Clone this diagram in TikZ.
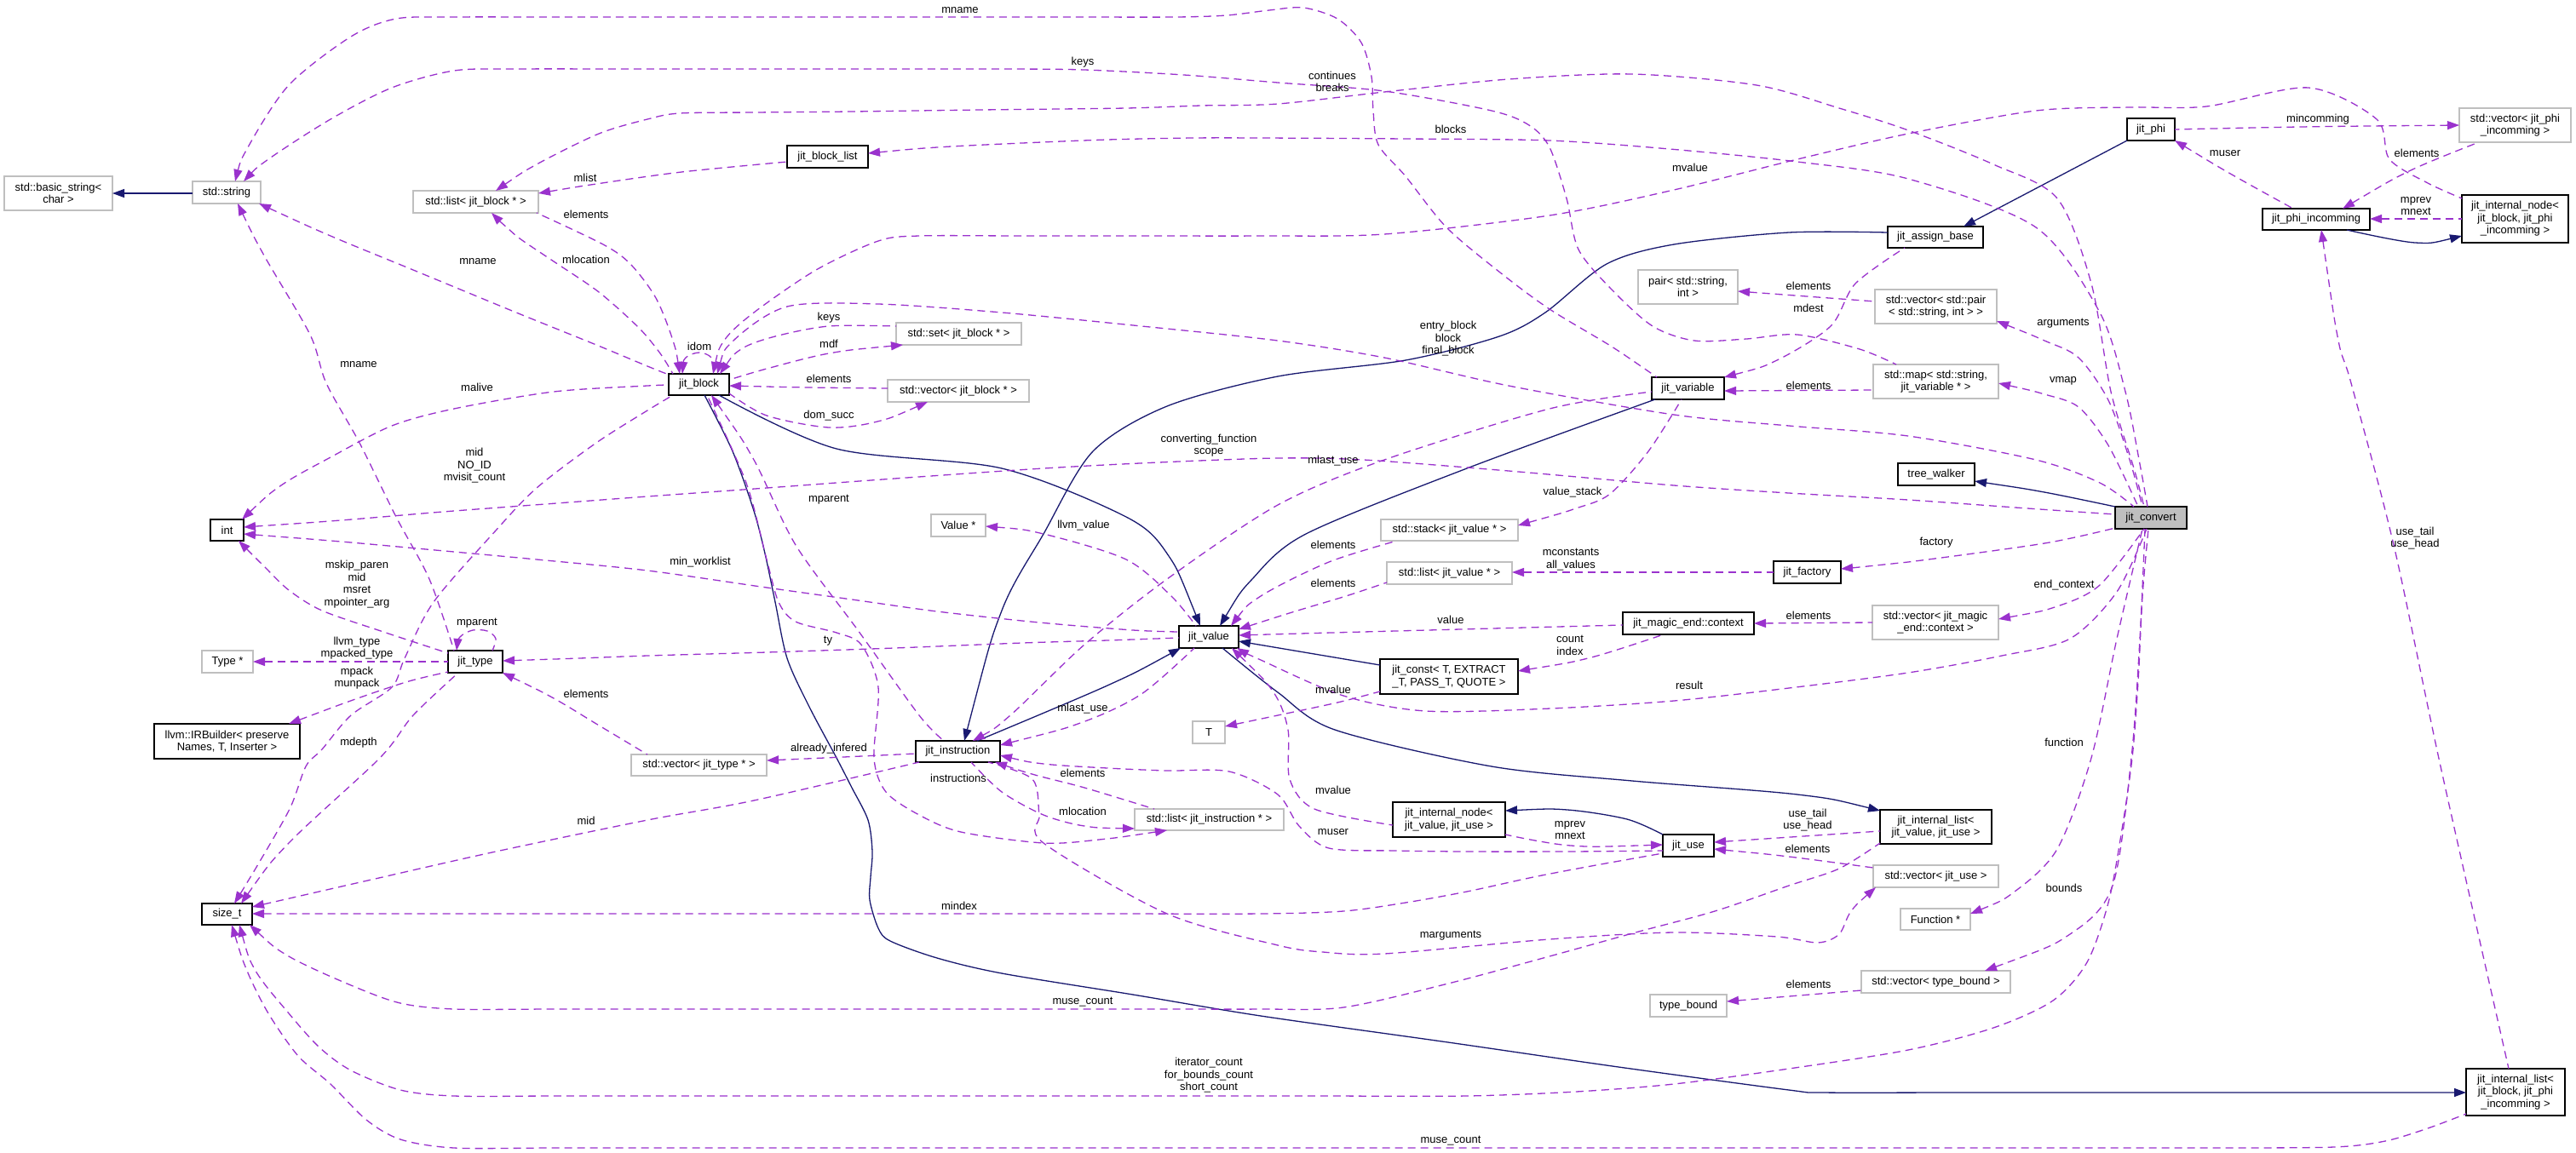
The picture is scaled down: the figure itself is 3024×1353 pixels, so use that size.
\documentclass[tikz,border=0pt]{standalone}
\usepackage{fontspec}
\setmainfont{Liberation Sans}
\usetikzlibrary{arrows.meta,calc}
\definecolor{usecol}{HTML}{9A32CD}
\definecolor{inhcol}{HTML}{191970}
\definecolor{boxgrey}{HTML}{BFBFBF}
\newcommand\lblfont{\fontsize{13pt}{14.5pt}\selectfont}
\tikzset{
 box/.style={line width=1.4pt, inner sep=0pt, align=center, font=\lblfont},
 gbox/.style={box, draw=boxgrey},
 bbox/.style={box, draw=black},
 use/.style={draw=usecol, line width=1.3pt, dash pattern=on 9pt off 6pt, {Triangle[length=14pt,width=10pt]}-},
 inh/.style={draw=inhcol, line width=1.3pt, {Triangle[length=14pt,width=10pt]}-},
 lbl/.style={font=\lblfont, align=center, inner sep=0pt},
 sm/.style={smooth, tension=0.5}
}
\begin{document}
\begin{tikzpicture}[x=1pt,y=-1pt]
\fill[white] (0,0) rectangle (3024,1353);
\useasboundingbox (0,0) rectangle (3024,1353);
% ---------- nodes ----------
\node[gbox, minimum width=127pt, minimum height=40pt] (basic) at (68.5,227) {std::basic\_string<\\char >};
\node[gbox, minimum width=80pt, minimum height=26pt] (string) at (266,226) {std::string};
\node[gbox, minimum width=147pt, minimum height=26pt] (listblk) at (558.5,237) {std::list< jit\_block * >};
\node[bbox, minimum width=95pt, minimum height=26pt] (blklist) at (971.5,184) {jit\_block\_list};
\node[bbox, minimum width=71pt, minimum height=25pt] (jblock) at (820.5,451.5) {jit\_block};
\node[gbox, minimum width=147pt, minimum height=26pt] (setblk) at (1125.5,392) {std::set< jit\_block * >};
\node[gbox, minimum width=166pt, minimum height=26pt] (vecblk) at (1125,459) {std::vector< jit\_block * >};
\node[bbox, minimum width=56pt, minimum height=26pt] (jphi) at (2525,152) {jit\_phi};
\node[gbox, minimum width=131pt, minimum height=40pt] (vecphi) at (2952.5,147) {std::vector< jit\_phi\\\_incomming >};
\node[bbox, minimum width=126pt, minimum height=25pt] (phiinc) at (2719,257.5) {jit\_phi\_incomming};
\node[bbox, minimum width=125pt, minimum height=56pt] (nodebp) at (2952.5,257) {jit\_internal\_node<\\jit\_block, jit\_phi\\\_incomming >};
\node[bbox, minimum width=112pt, minimum height=25pt] (assign) at (2272,278.5) {jit\_assign\_base};
\node[gbox, minimum width=117pt, minimum height=40pt] (pair) at (1981.5,337) {pair< std::string,\\int >};
\node[gbox, minimum width=143pt, minimum height=40pt] (vecpair) at (2272.5,360) {std::vector< std::pair\\< std::string, int > >};
\node[bbox, minimum width=85pt, minimum height=26pt] (jvar) at (1981.5,456) {jit\_variable};
\node[gbox, minimum width=147pt, minimum height=40pt] (mapvar) at (2272.5,448) {std::map< std::string,\\jit\_variable * >};
\node[bbox, minimum width=90pt, minimum height=26pt] (tree) at (2273,557) {tree\_walker};
\node[bbox, fill=boxgrey, minimum width=84pt, minimum height=26pt] (convert) at (2525,608) {jit\_convert};
\node[gbox, minimum width=64pt, minimum height=26pt] (valueptr) at (1125,617) {Value *};
\node[bbox, minimum width=39pt, minimum height=25pt] (int) at (266.5,622.5) {int};
\node[gbox, minimum width=161pt, minimum height=25pt] (stackv) at (1701.5,622.5) {std::stack< jit\_value * >};
\node[gbox, minimum width=147pt, minimum height=26pt] (listv) at (1701.5,673) {std::list< jit\_value * >};
\node[bbox, minimum width=79pt, minimum height=26pt] (factory) at (2121.5,672) {jit\_factory};
\node[bbox, minimum width=70pt, minimum height=26pt] (jvalue) at (1419,748) {jit\_value};
\node[bbox, minimum width=154pt, minimum height=26pt] (magic) at (1982,732) {jit\_magic\_end::context};
\node[gbox, minimum width=148pt, minimum height=40pt] (vecmagic) at (2272,731) {std::vector< jit\_magic\\\_end::context >};
\node[bbox, minimum width=162pt, minimum height=41pt] (jconst) at (1701,794.5) {jit\_const< T, EXTRACT\\\_T, PASS\_T, QUOTE >};
\node[gbox, minimum width=60pt, minimum height=26pt] (typeptr) at (267,777) {Type *};
\node[bbox, minimum width=64pt, minimum height=26pt] (jtype) at (558,777) {jit\_type};
\node[bbox, minimum width=171pt, minimum height=41pt] (irb) at (266.5,870.5) {llvm::IRBuilder< preserve\\Names, T, Inserter >};
\node[gbox, minimum width=38pt, minimum height=26pt] (T) at (1419,860) {T};
\node[gbox, minimum width=159pt, minimum height=25pt] (vectype) at (820.5,898.5) {std::vector< jit\_type * >};
\node[bbox, minimum width=99pt, minimum height=25pt] (jinstr) at (1124.5,882.5) {jit\_instruction};
\node[gbox, minimum width=175pt, minimum height=25pt] (listinstr) at (1419.5,962.5) {std::list< jit\_instruction * >};
\node[bbox, minimum width=132pt, minimum height=41pt] (nodevu) at (1701,962.5) {jit\_internal\_node<\\jit\_value, jit\_use >};
\node[bbox, minimum width=60pt, minimum height=26pt] (juse) at (1982,993) {jit\_use};
\node[bbox, minimum width=131pt, minimum height=40pt] (listvu) at (2272.5,971) {jit\_internal\_list<\\jit\_value, jit\_use >};
\node[gbox, minimum width=147pt, minimum height=26pt] (vecuse) at (2272.5,1029) {std::vector< jit\_use >};
\node[gbox, minimum width=82pt, minimum height=25pt] (func) at (2272,1079.5) {Function *};
\node[gbox, minimum width=90pt, minimum height=26pt] (tbound) at (1982,1181) {type\_bound};
\node[gbox, minimum width=175pt, minimum height=26pt] (vecbound) at (2272.5,1153) {std::vector< type\_bound >};
\node[bbox, minimum width=59pt, minimum height=25pt] (sizet) at (266.5,1073.5) {size\_t};
\node[bbox, minimum width=116pt, minimum height=55pt] (listbp) at (2953,1282.5) {jit\_internal\_list<\\jit\_block, jit\_phi\\\_incomming >};
% ---------- inheritance ----------
\draw[inh] ($(basic)+(63.5,0)$) -- ($(string)+(-40,1)$);
\draw[inh] ($(assign)+(33,-12.5)$) -- ($(jphi)+(-28,13)$);
\draw[inh] plot[sm] coordinates {($(jinstr)+(7.5,-12.5)$) (1176,717) (1225,627) (1283,530) (1370,477) (1500,442) (1650,423) (1760,395) (1814,367) (1886,310) (1965,287) (2100,273) ($(assign)+(-56,-5.5)$)};
\draw[inh] plot[sm] coordinates {($(jvalue)+(13,-13)$) (1470,680) (1533,627) (1722,550) ($(jvar)+(-38.5,13)$)};
\draw[inh] plot[sm] coordinates {($(jvalue)+(-10,-13)$) (1370,650) (1322,607) (1176,550) (982,527) ($(jblock)+(23.5,12.5)$)};
\draw[inh] plot[sm] coordinates {($(jvalue)+(-33,13)$) (1300,805) ($(jinstr)+(22.5,-12.5)$)};
\draw[inh] ($(jvalue)+(35,5)$) -- ($(jconst)+(-81,-13.5)$);
\draw[inh] plot[sm] coordinates {($(listvu)+(-65.5,-19)$) (2110,933) (1916,917) (1751,900) (1567,857) (1500,813) ($(jvalue)+(16,13)$)};
\draw[inh] plot[sm] coordinates {($(nodevu)+(66,-10.5)$) (1840,951) (1910,962) ($(juse)+(-30,-13)$)};
\draw[inh] plot[sm] coordinates {($(listbp)+(-58,0.5)$) (2700,1283) (2500,1283) (2300,1283) (2140,1283) (2100,1280) (1900,1253) (1700,1224) (1480,1193) (1330,1168) (1176,1143) (1100,1125) (1045,1105) (1031,1090) (1021,1057) (1022,1030) (1024,1000) (1019,963) (1000,925) (982,890) (950,830) (924,773) (910,707) (898,650) (885,600) (860,530) ($(jblock)+(6.5,12.5)$)};
\draw[inh] plot[sm] coordinates {($(nodebp)+(-62.5,20)$) (2835,285) ($(phiinc)+(36,12.5)$)};
\draw[inh] plot[sm] coordinates {($(tree)+(45,8)$) (2400,578) ($(convert)+(-42,-13)$)};
% ---------- usage ----------
\draw[use] plot[sm] coordinates {($(string)+(10,-13)$) (291,173) (339,100) (412,43) (465,22) (533,20) (650,20) (800,20) (950,20) (1100,20) (1250,20) (1380,20) (1440,18) (1490,12) (1530,9) (1570,22) (1598,50) (1610,90) (1612,130) (1618,170) (1650,207) (1698,267) (1761,320) (1819,363) (1892,407) ($(jvar)+(-36.5,-13)$)};
\draw[use] plot[sm] coordinates {($(string)+(20,-13)$) (315,187) (388,140) (460,103) (533,83) (606,81) (750,81) (900,81) (1050,81) (1180,81) (1273,82) (1390,88) (1500,97) (1625,107) (1751,130) (1795,147) (1819,173) (1839,233) (1853,293) (1892,340) (1940,383) (1989,400) (2050,398) (2110,393) (2183,410) ($(mapvar)+(-46.5,-20)$)};
\draw[use] plot[sm] coordinates {($(string)+(13,13)$) (310,300) (364,393) (383,450) (422,520) (465,607) (504,680) ($(jtype)+(-25,-13)$)};
\draw[use] plot[sm] coordinates {($(string)+(38,13)$) (388,277) (485,317) (606,367) (700,405) (760,430) ($(jblock)+(-35.5,-11.5)$)};
\draw[use] plot[sm] coordinates {($(jblock)+(-22.5,-12.5)$) (790,400) (770,350) (740,310) (708,287) ($(listblk)+(71.5,13)$)};
\draw[use] plot[sm] coordinates {($(listblk)+(18.5,13)$) (606,277) (650,307) (703,343) (750,385) (775,415) ($(jblock)+(-30.5,-12.5)$)};
\draw[use] plot[sm] coordinates {($(listblk)+(73.5,-10)$) (700,216) (800,202) ($(blklist)+(-47.5,6)$)};
\draw[use] plot[sm] coordinates {($(listblk)+(23.5,-13)$) (630,193) (703,157) (760,140) (798,133) (885,132) (1000,131) (1150,129) (1322,127) (1410,124) (1500,122) (1625,108) (1771,93) (1916,87) (2062,100) (2159,127) (2240,153) (2340,193) (2415,233) (2455,333) (2478,460) (2505,550) ($(convert)+(-8,-13)$)};
\draw[use] plot[sm] coordinates {($(blklist)+(47.5,-4)$) (1100,173) (1200,168) (1300,164) (1400,162) (1480,162) (1650,163) (1819,165) (1960,175) (2110,190) (2240,210) (2390,267) (2465,367) (2495,460) (2512,545) ($(convert)+(-4,-13)$)};
\draw[use] plot[sm] coordinates {($(jblock)+(16.5,-12.5)$) (850,400) (885,367) (958,317) (1031,283) (1079,277) (1200,277) (1350,277) (1480,277) (1625,275) (1819,253) (1965,223) (2110,187) (2240,157) (2390,130) (2500,126) (2590,125) (2710,103) (2790,140) (2805,187) (2850,215) ($(nodebp)+(-62.5,-24)$)};
\draw[use] plot[sm] coordinates {($(jblock)+(21.5,-12.5)$) (861,400) (924,360) (1031,357) (1176,367) (1340,383) (1500,400) (1625,420) (1771,453) (1965,487) (2100,500) (2240,512) (2390,540) (2465,567) ($(convert)+(-20,-13)$)};
\draw[use] plot[sm] coordinates {($(int)+(19.5,-3.5)$) (400,611) (520,601) (640,592) (760,583) (900,573) (1050,562) (1225,550) (1360,543) (1500,538) (1601,540) (1771,553) (1965,570) (2100,579) (2240,587) (2380,597) ($(convert)+(-42,-4)$)};
\draw[use] plot[sm] coordinates {($(int)+(17.5,-12.5)$) (330,570) (388,537) (460,500) (533,480) (650,460) (760,453) ($(jblock)+(-35.5,0.5)$)};
\draw[use] plot[sm] coordinates {($(sizet)+(8.5,-12.5)$) (300,1020) (340,950) (359,900) (378,880) (412,840) (460,807) (475,773) (509,707) (582,623) (630,573) (700,520) (760,482) ($(jblock)+(-30.5,12.5)$)};
\draw[use] plot[sm] coordinates {($(int)+(19.5,4.5)$) (400,636) (500,645) (630,657) (760,670) (900,690) (1000,704) (1100,718) (1220,731) (1330,740) ($(jvalue)+(-35,-6)$)};
\draw[use] plot[sm] coordinates {($(int)+(13.5,12.5)$) (310,665) (339,693) (378,717) (450,742) ($(jtype)+(-32,-10)$)};
\draw[use] ($(typeptr)+(30,0)$) -- ($(jtype)+(-32,0)$);
\draw[use] plot[sm] coordinates {($(irb)+(72.5,-20.5)$) (420,820) (480,800) ($(jtype)+(-32,12)$)};
\draw[use] plot[sm] coordinates {($(sizet)+(16.5,-12.5)$) (339,990) (446,890) (485,840) ($(jtype)+(-20,13)$)};
\draw[use] plot[sm] coordinates {($(jtype)+(-22,-13)$) (540,748) (555,740) (572,741) (582,750) ($(jtype)+(20,-13)$)};
\draw[use] plot[sm] coordinates {($(jtype)+(32,13)$) (650,820) (700,850) ($(vectype)+(-60.5,-12.5)$)};
\draw[use] plot[sm] coordinates {($(vectype)+(79.5,-5.5)$) (990,889) ($(jinstr)+(-49.5,2.5)$)};
\draw[use] plot[sm] coordinates {($(jblock)+(14.5,12.5)$) (885,540) (934,640) (1007,740) (1079,840) ($(jinstr)+(-16.5,-12.5)$)};
\draw[use] plot[sm] coordinates {($(vecblk)+(-36,13)$) (1030,495) (973,502) (900,488) ($(jblock)+(35.5,10.5)$)};
\draw[use] plot[sm] coordinates {($(jblock)+(35.5,1.5)$) (950,455) ($(vecblk)+(-83,-3)$)};
\draw[use] plot[sm] coordinates {($(jblock)+(24.5,-12.5)$) (870,410) (910,395) (973,383) ($(setblk)+(-73.5,-9)$)};
\draw[use] plot[sm] coordinates {($(setblk)+(-65.5,13)$) (973,415) (900,433) ($(jblock)+(35.5,-5.5)$)};
\draw[use] plot[sm] coordinates {($(jblock)+(-19.5,-12.5)$) (805,420) (821,414) (835,420) ($(jblock)+(17.5,-12.5)$)};
\draw[use] plot[sm] coordinates {($(listinstr)+(-49.5,12.5)$) (1290,986) (1225,990) (1128,977) (1079,957) (1040,930) (1026,890) (1031,807) (1011,757) (982,743) (934,730) (914,707) (900,657) (876,567) ($(jblock)+(9.5,12.5)$)};
\draw[use] plot[sm] coordinates {($(listinstr)+(-87.5,10.5)$) (1273,970) (1225,957) (1176,930) ($(jinstr)+(15.5,12.5)$)};
\draw[use] plot[sm] coordinates {($(jinstr)+(43.5,12.5)$) (1215,910) (1273,925) ($(listinstr)+(-64.5,-12.5)$)};
\draw[use] plot[sm] coordinates {($(sizet)+(29.5,-8.5)$) (436,1033) (582,1000) (760,963) (885,940) ($(jinstr)+(-45.5,12.5)$)};
\draw[use] plot[sm] coordinates {($(sizet)+(29.5,-0.5)$) (400,1073) (550,1073) (700,1073) (850,1073) (1000,1073) (1150,1073) (1300,1073) (1480,1073) (1577,1070) (1650,1060) (1722,1047) (1800,1030) (1868,1017) ($(juse)+(-30,9)$)};
\draw[use] plot[sm] coordinates {($(sizet)+(26.5,12.5)$) (339,1123) (412,1157) (470,1178) (533,1185) (650,1185) (800,1185) (950,1185) (1100,1185) (1250,1185) (1380,1185) (1480,1185) (1577,1183) (1700,1155) (1819,1123) (1920,1095) (2013,1070) (2100,1040) (2159,1020) ($(listvu)+(-65.5,19)$)};
\draw[use] plot[sm] coordinates {($(sizet)+(14.5,12.5)$) (300,1140) (339,1190) (375,1230) (412,1257) (470,1280) (533,1287) (650,1287) (800,1287) (950,1287) (1100,1287) (1250,1287) (1400,1287) (1550,1287) (1722,1287) (1850,1282) (1965,1273) (2100,1255) (2240,1233) (2340,1207) (2410,1175) (2450,1130) (2475,1060) (2490,980) (2503,890) (2510,800) (2515,700) ($(convert)+(-3,13)$)};
\draw[use] plot[sm] coordinates {($(sizet)+(5.5,12.5)$) (290,1140) (315,1190) (350,1240) (388,1273) (430,1315) (470,1338) (533,1348) (650,1348) (800,1348) (950,1348) (1100,1348) (1250,1348) (1400,1348) (1550,1348) (1700,1348) (1850,1348) (2000,1348) (2150,1348) (2300,1348) (2450,1348) (2600,1348) (2740,1347) (2800,1340) (2850,1325) ($(listbp)+(-58,25.5)$)};
\draw[use] plot[sm] coordinates {($(phiinc)+(6,12.5)$) (2745,400) (2760,450) (2810,640) (2865,900) ($(listbp)+(-8,-27.5)$)};
\draw[use] plot[sm] coordinates {($(vecphi)+(-65.5,0)$) (2700,149) ($(jphi)+(28,0)$)};
\draw[use] plot[sm] coordinates {($(phiinc)+(31,-12.5)$) (2830,200) ($(vecphi)+(-42.5,20)$)};
\draw[use] ($(phiinc)+(63,-0.5)$) -- ($(nodebp)+(-62.5,0)$);
\draw[use] plot[sm] coordinates {($(jphi)+(28,13)$) (2620,205) ($(phiinc)+(-27,-12.5)$)};
\draw[use] plot[sm] coordinates {($(jvar)+(42.5,-13)$) (2086,423) (2149,383) (2178,333) ($(assign)+(-36,12.5)$)};
\draw[use] ($(pair)+(58.5,5)$) -- ($(vecpair)+(-71.5,-6)$);
\draw[use] ($(jvar)+(42.5,3)$) -- ($(mapvar)+(-73.5,10)$);
\draw[use] plot[sm] coordinates {($(vecpair)+(71.5,17)$) (2400,400) (2440,420) (2475,470) (2500,540) ($(convert)+(-10,-13)$)};
\draw[use] plot[sm] coordinates {($(mapvar)+(73.5,2)$) (2400,463) (2440,478) (2475,523) ($(convert)+(-15,-13)$)};
\draw[use] plot[sm] coordinates {($(jinstr)+(17.5,-12.5)$) (1186,840) (1273,757) (1370,680) (1500,593) (1625,540) (1819,480) ($(jvar)+(-42.5,4)$)};
\draw[use] plot[sm] coordinates {($(jinstr)+(49.5,-7.5)$) (1271,848) (1340,815) ($(jvalue)+(-17,13)$)};
\draw[use] plot[sm] coordinates {($(valueptr)+(32,1)$) (1225,627) (1322,657) (1375,700) ($(jvalue)+(-15,-13)$)};
\draw[use] plot[sm] coordinates {($(jtype)+(32,-1)$) (680,773) (760,770) (900,766) (1050,761) (1200,755) (1300,752) ($(jvalue)+(-35,1)$)};
\draw[use] plot[sm] coordinates {($(stackv)+(80.5,-5.5)$) (1850,597) (1890,580) (1935,530) ($(jvar)+(-7.5,13)$)};
\draw[use] plot[sm] coordinates {($(jvalue)+(26,-13)$) (1480,700) (1560,660) ($(stackv)+(-61.5,12.5)$)};
\draw[use] plot[sm] coordinates {($(jvalue)+(35,-9)$) (1520,718) (1580,700) ($(listv)+(-73.5,11)$)};
\draw[use] ($(listv)+(73.5,-1)$) -- ($(factory)+(-39.5,0)$);
\draw[use] plot[sm] coordinates {($(factory)+(39.5,-4)$) (2240,660) (2400,638) ($(convert)+(-42,12)$)};
\draw[use] plot[sm] coordinates {($(jvalue)+(35,-2)$) (1600,742) ($(magic)+(-77,2)$)};
\draw[use] ($(magic)+(77,0)$) -- ($(vecmagic)+(-74,0)$);
\draw[use] plot[sm] coordinates {($(jconst)+(81,-6.5)$) (1868,772) ($(magic)+(-29,13)$)};
\draw[use] plot[sm] coordinates {($(vecmagic)+(74,-4)$) (2415,712) (2465,687) ($(convert)+(-8,13)$)};
\draw[use] plot[sm] coordinates {($(jvalue)+(33,13)$) (1480,775) (1577,817) (1674,835) (1820,832) (1965,823) (2100,808) (2240,790) (2350,770) (2430,750) (2485,695) ($(convert)+(-5,13)$)};
\draw[use] plot[sm] coordinates {($(T)+(19,-7)$) (1500,840) (1570,825) ($(jconst)+(-81,17.5)$)};
\draw[use] plot[sm] coordinates {($(jvalue)+(27,13)$) (1495,813) (1512,857) (1514,915) (1543,950) ($(nodevu)+(-66,6.5)$)};
\draw[use] plot[sm] coordinates {($(jinstr)+(49.5,4.5)$) (1225,897) (1300,902) (1370,905) (1443,906) (1500,933) (1525,970) (1560,996) (1640,999) (1722,1000) (1840,1000) ($(juse)+(-30,6)$)};
\draw[use] plot[sm] coordinates {($(juse)+(-30,-1)$) (1844,993) ($(nodevu)+(66,17.5)$)};
\draw[use] ($(juse)+(30,-4)$) -- ($(listvu)+(-65.5,5)$);
\draw[use] plot[sm] coordinates {($(juse)+(30,4)$) (2100,1006) ($(vecuse)+(-73.5,-10)$)};
\draw[use] plot[sm] coordinates {($(vecuse)+(-70.5,13)$) (2173,1070) (2159,1097) (2134,1107) (2086,1100) (1965,1095) (1819,1103) (1625,1120) (1553,1118) (1500,1110) (1370,1073) (1225,990) (1220,957) (1212,915) ($(jinstr)+(35.5,12.5)$)};
\draw[use] plot[sm] coordinates {($(func)+(41,-6.5)$) (2365,1047) (2415,997) (2455,890) (2485,750) ($(convert)+(-10,13)$)};
\draw[use] plot[sm] coordinates {($(vecbound)+(57.5,-13)$) (2430,1097) (2480,1040) (2502,890) (2512,750) ($(convert)+(-7,13)$)};
\draw[use] ($(tbound)+(45,-5)$) -- ($(vecbound)+(-87.5,10)$);
% ---------- labels ----------
\node[lbl] (l1) at (1127,12) {mname};
\node[lbl] (l2) at (1271,73) {keys};
\node[lbl] (l3) at (421,428) {mname};
\node[lbl] (l4) at (561,307) {mname};
\node[lbl] (l5) at (688,252) {elements};
\node[lbl] (l6) at (688,305) {mlocation};
\node[lbl] (l7) at (687,209) {mlist};
\node[lbl] (l8) at (1564,96) {continues\\breaks};
\node[lbl] (l9) at (1703,152) {blocks};
\node[lbl] (l10) at (1984,197) {mvalue};
\node[lbl] (l11) at (1700,398) {entry\_block\\block\\final\_block};
\node[lbl] (l12) at (1419,523) {converting\_function\\scope};
\node[lbl] (l13) at (560,455) {malive};
\node[lbl] (l14) at (557,547) {mid\\NO\_ID\\mvisit\_count};
\node[lbl] (l15) at (822,660) {min\_worklist};
\node[lbl] (l16) at (419,686) {mskip\_paren\\mid\\msret\\mpointer\_arg};
\node[lbl] (l17) at (419,761) {llvm\_type\\mpacked\_type};
\node[lbl] (l18) at (419,796) {mpack\\munpack};
\node[lbl] (l19) at (421,872) {mdepth};
\node[lbl] (l20) at (560,732) {mparent};
\node[lbl] (l21) at (688,815) {elements};
\node[lbl] (l22) at (973,879) {already\_infered};
\node[lbl] (l23) at (973,587) {mparent};
\node[lbl] (l24) at (973,488) {dom\_succ};
\node[lbl] (l25) at (973,445) {elements};
\node[lbl] (l26) at (973,373) {keys};
\node[lbl] (l27) at (973,404) {mdf};
\node[lbl] (l28) at (821,407) {idom};
\node[lbl] (l29) at (1125,914) {instructions};
\node[lbl] (l30) at (1271,953) {mlocation};
\node[lbl] (l31) at (1271,908) {elements};
\node[lbl] (l32) at (688,964) {mid};
\node[lbl] (l33) at (1126,1064) {mindex};
\node[lbl] (l34) at (1271,1177) {muse\_count};
\node[lbl] (l35) at (1419,1263) {iterator\_count\\for\_bounds\_count\\short\_count};
\node[lbl] (l36) at (1703,1340) {muse\_count};
\node[lbl] (l37) at (2835,632) {use\_tail\\use\_head};
\node[lbl] (l38) at (2721,140) {mincomming};
\node[lbl] (l39) at (2837,180) {elements};
\node[lbl] (l40) at (2836,242) {mprev\\mnext};
\node[lbl] (l41) at (2612,180) {muser};
\node[lbl] (l42) at (2123,362) {mdest};
\node[lbl] (l43) at (2123,336) {elements};
\node[lbl] (l44) at (2123,453) {elements};
\node[lbl] (l45) at (2422,380) {arguments};
\node[lbl] (l46) at (2422,447) {vmap};
\node[lbl] (l47) at (1565,541) {mlast\_use};
\node[lbl] (l48) at (1271,832) {mlast\_use};
\node[lbl] (l49) at (1272,617) {llvm\_value};
\node[lbl] (l50) at (972,753) {ty};
\node[lbl] (l51) at (1846,578) {value\_stack};
\node[lbl] (l52) at (1565,640) {elements};
\node[lbl] (l53) at (1565,685) {elements};
\node[lbl] (l54) at (1844,657) {mconstants\\all\_values};
\node[lbl] (l55) at (2273,637) {factory};
\node[lbl] (l56) at (1703,728) {value};
\node[lbl] (l57) at (2123,723) {elements};
\node[lbl] (l58) at (1843,758) {count\\index};
\node[lbl] (l59) at (2423,687) {end\_context};
\node[lbl] (l60) at (1983,805) {result};
\node[lbl] (l61) at (1565,810) {mvalue};
\node[lbl] (l62) at (1565,928) {mvalue};
\node[lbl] (l63) at (1565,977) {muser};
\node[lbl] (l64) at (1843,975) {mprev\\mnext};
\node[lbl] (l65) at (2122,963) {use\_tail\\use\_head};
\node[lbl] (l66) at (2122,997) {elements};
\node[lbl] (l67) at (1703,1099) {marguments};
\node[lbl] (l68) at (2423,872) {function};
\node[lbl] (l69) at (2423,1043) {bounds};
\node[lbl] (l70) at (2123,1156) {elements};
\end{tikzpicture}
\end{document}
